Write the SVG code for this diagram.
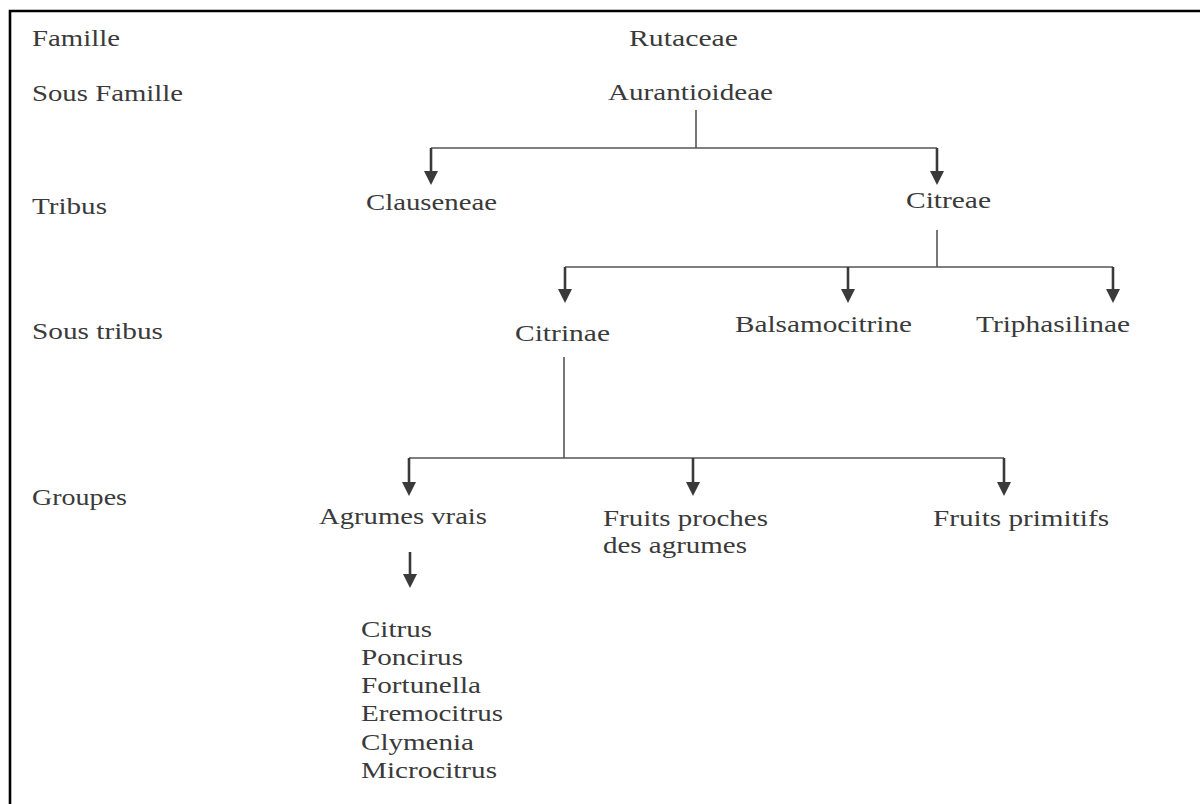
<svg xmlns="http://www.w3.org/2000/svg" width="1200" height="804" viewBox="0 0 1200 804">
<style>
text { font-family: "Liberation Serif", "Times New Roman", serif; font-size: 23px; fill: #3a3a3a; }
.ln { stroke: #555; stroke-width: 1.6; fill: none; }
.ar { stroke: #3a3a3a; stroke-width: 2.6; fill: none; marker-end: url(#ah); }
.bd { stroke: #000; stroke-width: 2.6; fill: none; }
</style>
<defs>
<marker id="ah" viewBox="0 0 14 14" refX="0" refY="7" markerWidth="14" markerHeight="15" markerUnits="userSpaceOnUse" orient="auto">
<path d="M0,0 L14,7 L0,14 z" fill="#3a3a3a"/>
</marker>
</defs>
<rect width="1200" height="804" fill="#fff"/>
<g id="border">
<path class="bd" d="M10,804 L10,11 L1200,11"/>
</g>
<g id="levels">
<text x="32" y="46" textLength="88" lengthAdjust="spacingAndGlyphs">Famille</text>
<text x="32" y="101" textLength="151" lengthAdjust="spacingAndGlyphs">Sous Famille</text>
<text x="32" y="214" textLength="75" lengthAdjust="spacingAndGlyphs">Tribus</text>
<text x="32" y="339" textLength="131" lengthAdjust="spacingAndGlyphs">Sous tribus</text>
<text x="32" y="505" textLength="95" lengthAdjust="spacingAndGlyphs">Groupes</text>
</g>
<g id="connectors">
<path class="ln" d="M696,110 V148 M431,148 H937"/>
<path class="ar" d="M431,148 V171"/>
<path class="ar" d="M937,148 V171"/>
<path class="ln" d="M937,230 V267 M565,267 H1113"/>
<path class="ar" d="M565,267 V289"/>
<path class="ar" d="M848,267 V289"/>
<path class="ar" d="M1113,267 V289"/>
<path class="ln" d="M564,357 V458 M409,458 H1004"/>
<path class="ar" d="M409,458 V482"/>
<path class="ar" d="M693,458 V482"/>
<path class="ar" d="M1004,458 V482"/>
<path class="ar" d="M410,552 V574"/>
</g>
<g id="n-rutaceae"><text x="629" y="46" textLength="109" lengthAdjust="spacingAndGlyphs">Rutaceae</text></g>
<g id="n-aurantioideae"><text x="608" y="100" textLength="165" lengthAdjust="spacingAndGlyphs">Aurantioideae</text></g>
<g id="n-clauseneae"><text x="366" y="210" textLength="131" lengthAdjust="spacingAndGlyphs">Clauseneae</text></g>
<g id="n-citreae"><text x="906" y="208" textLength="85" lengthAdjust="spacingAndGlyphs">Citreae</text></g>
<g id="n-citrinae"><text x="515" y="341" textLength="95" lengthAdjust="spacingAndGlyphs">Citrinae</text></g>
<g id="n-balsamocitrine"><text x="735" y="332" textLength="177" lengthAdjust="spacingAndGlyphs">Balsamocitrine</text></g>
<g id="n-triphasilinae"><text x="976" y="332" textLength="154" lengthAdjust="spacingAndGlyphs">Triphasilinae</text></g>
<g id="n-agrumes-vrais"><text x="319" y="524" textLength="168" lengthAdjust="spacingAndGlyphs">Agrumes vrais</text></g>
<g id="n-fruits-proches">
<text x="603" y="526" textLength="165" lengthAdjust="spacingAndGlyphs">Fruits proches</text>
<text x="603" y="553" textLength="144" lengthAdjust="spacingAndGlyphs">des agrumes</text>
</g>
<g id="n-fruits-primitifs"><text x="933" y="526" textLength="176" lengthAdjust="spacingAndGlyphs">Fruits primitifs</text></g>
<g id="n-genres">
<text x="361" y="637" textLength="71" lengthAdjust="spacingAndGlyphs">Citrus</text>
<text x="361" y="665" textLength="102" lengthAdjust="spacingAndGlyphs">Poncirus</text>
<text x="361" y="693" textLength="120" lengthAdjust="spacingAndGlyphs">Fortunella</text>
<text x="361" y="721" textLength="142" lengthAdjust="spacingAndGlyphs">Eremocitrus</text>
<text x="361" y="750" textLength="113" lengthAdjust="spacingAndGlyphs">Clymenia</text>
<text x="361" y="778" textLength="136" lengthAdjust="spacingAndGlyphs">Microcitrus</text>
</g>
</svg>
